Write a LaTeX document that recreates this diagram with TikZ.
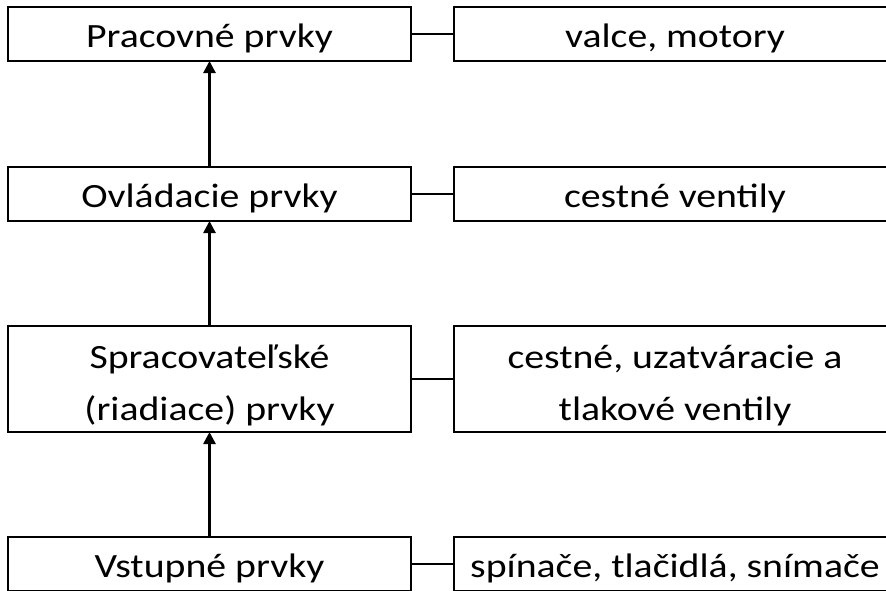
\documentclass[tikz,border=0pt]{standalone}
\usepackage{fontspec}
\setmainfont{Carlito}[FakeStretch=1.17]
\usetikzlibrary{arrows.meta}
\begin{document}
\begin{tikzpicture}[x=1pt,y=-1pt,
  box/.style={draw=black, line width=1.6pt, inner sep=0pt, outer sep=0pt,
    font=\fontsize{34}{52}\selectfont, align=center},
  lbox/.style={box, minimum width=403pt},
  rbox/.style={box, minimum width=442pt},
  one/.style={minimum height=54pt, text height=30pt, text depth=4pt},
  two/.style={minimum height=106pt, text height=86pt, text depth=4pt},
  arr/.style={line width=2.6pt, -{Triangle[width=12pt,length=12pt]}},
  con/.style={line width=1.6pt}]
\useasboundingbox (0,0) rectangle (886,590);
% left column
\node[lbox,one] (l1) at (209.5,34) {Pracovné prvky};
\node[lbox,one] (l2) at (209.5,194) {Ovládacie prvky};
\node[lbox,two] (l3) at (209.5,379) {Spracovateľské\\(riadiace) prvky};
\node[lbox,one] (l4) at (209.5,564) {Vstupné prvky};
% right column
\node[rbox,one] (r1) at (675,34) {valce, motory};
\node[rbox,one] (r2) at (675,194) {cestné ventily};
\node[rbox,two] (r3) at (675,379) {cestné, uzatváracie a\\tlakové ventily};
\node[rbox,one] (r4) at (675,564) {spínače, tlačidlá, snímače};
% arrows
\draw[arr] (l2.north) -- (l1.south);
\draw[arr] (l3.north) -- (l2.south);
\draw[arr] (l4.north) -- (l3.south);
% connectors
\draw[con] (l1.east) -- (r1.west);
\draw[con] (l2.east) -- (r2.west);
\draw[con] (l3.east) -- (r3.west);
\draw[con] (l4.east) -- (r4.west);
\end{tikzpicture}
\end{document}
